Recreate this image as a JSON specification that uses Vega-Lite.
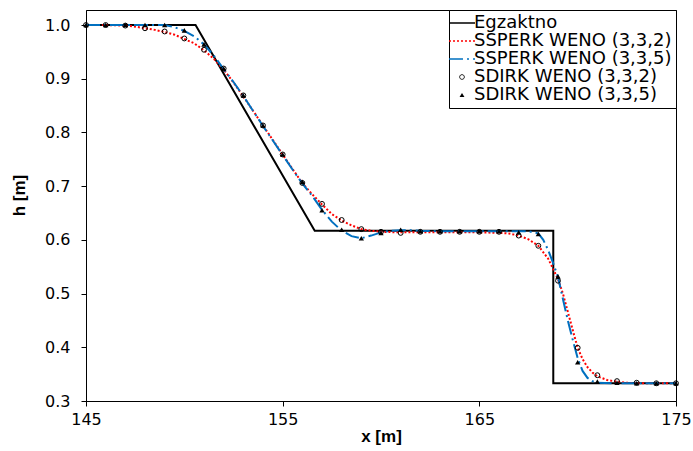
{
  "$schema": "https://vega.github.io/schema/vega-lite/v6.json",
  "autosize": {"type": "none"},
  "width": 590,
  "height": 391,
  "padding": {"left": 86, "top": 10, "right": 17, "bottom": 50},
  "background": "white",
  "config": {
    "view": {"stroke": "black", "strokeWidth": 1},
    "legend": {"strokeColor": "#000000", "fillColor": "#ffffff", "strokeWidth": 1, "cornerRadius": 0},
    "axis": {
      "domainColor": "black", "tickColor": "black", "labelColor": "black", "titleColor": "black",
      "labelFont": "DejaVu Sans", "titleFont": "Liberation Sans",
      "labelFontSize": 16, "titleFontSize": 17, "titleFontWeight": "bold",
      "grid": false, "tickSize": 5, "domainWidth": 1, "tickWidth": 1, "labelFlush": false
    }
  },
  "datasets": {
    "exact": [
      {"i": 1, "x": 145, "h": 1.0, "s": "Egzaktno"},
      {"i": 2, "x": 150.57, "h": 1.0, "s": "Egzaktno"},
      {"i": 3, "x": 156.63, "h": 0.617, "s": "Egzaktno"},
      {"i": 4, "x": 168.76, "h": 0.617, "s": "Egzaktno"},
      {"i": 5, "x": 168.76, "h": 0.333, "s": "Egzaktno"},
      {"i": 6, "x": 175, "h": 0.333, "s": "Egzaktno"}
    ],
    "red": [
      {"x":145,"h":1.0},{"x":146,"h":1.0},{"x":147,"h":0.999},{"x":147.5,"h":0.997},{"x":148,"h":0.994},{"x":148.5,"h":0.991},
      {"x":149,"h":0.987},{"x":149.5,"h":0.982},{"x":150,"h":0.974},{"x":150.5,"h":0.966},{"x":151,"h":0.953},{"x":151.5,"h":0.937},
      {"x":152,"h":0.917},{"x":152.5,"h":0.893},{"x":153,"h":0.867},{"x":153.5,"h":0.840},{"x":154,"h":0.813},{"x":154.5,"h":0.786},
      {"x":155,"h":0.759},{"x":155.5,"h":0.732},{"x":156,"h":0.706},{"x":156.5,"h":0.685},{"x":157,"h":0.666},{"x":157.5,"h":0.648},
      {"x":158,"h":0.636},{"x":158.5,"h":0.627},{"x":159,"h":0.620},{"x":159.5,"h":0.617},{"x":160,"h":0.615},{"x":161,"h":0.614},
      {"x":162,"h":0.614},{"x":163,"h":0.614},{"x":164,"h":0.614},{"x":165,"h":0.614},{"x":166,"h":0.613},{"x":166.5,"h":0.612},
      {"x":167,"h":0.608},{"x":167.5,"h":0.601},{"x":168,"h":0.589},{"x":168.5,"h":0.565},{"x":169,"h":0.527},{"x":169.25,"h":0.500},
      {"x":169.5,"h":0.466},{"x":169.75,"h":0.432},{"x":170,"h":0.399},{"x":170.25,"h":0.378},{"x":170.5,"h":0.363},{"x":170.75,"h":0.353},
      {"x":171,"h":0.346},{"x":171.5,"h":0.339},{"x":172,"h":0.336},{"x":172.5,"h":0.334},{"x":173,"h":0.333},{"x":175,"h":0.333}
    ],
    "blue": [
      {"x":145,"h":1.0},{"x":148,"h":1.0},{"x":149,"h":1.0},{"x":149.5,"h":0.996},{"x":150,"h":0.989},{"x":150.5,"h":0.979},
      {"x":151,"h":0.964},{"x":151.5,"h":0.943},{"x":152,"h":0.918},{"x":152.5,"h":0.894},{"x":153,"h":0.868},{"x":153.5,"h":0.840},
      {"x":154,"h":0.812},{"x":154.5,"h":0.785},{"x":155,"h":0.758},{"x":155.5,"h":0.731},{"x":156,"h":0.705},{"x":156.5,"h":0.682},
      {"x":157,"h":0.656},{"x":157.5,"h":0.634},{"x":158,"h":0.617},{"x":158.5,"h":0.607},{"x":159,"h":0.603},{"x":159.5,"h":0.608},
      {"x":160,"h":0.614},{"x":160.5,"h":0.617},{"x":161,"h":0.618},{"x":161.5,"h":0.618},{"x":162,"h":0.617},{"x":163,"h":0.616},
      {"x":164,"h":0.616},{"x":165,"h":0.616},{"x":166,"h":0.616},{"x":167,"h":0.616},{"x":167.5,"h":0.616},{"x":168,"h":0.612},
      {"x":168.25,"h":0.600},{"x":168.5,"h":0.581},{"x":168.75,"h":0.557},{"x":169,"h":0.531},{"x":169.25,"h":0.490},{"x":169.5,"h":0.450},
      {"x":169.75,"h":0.414},{"x":170,"h":0.380},{"x":170.25,"h":0.356},{"x":170.5,"h":0.343},{"x":170.75,"h":0.337},{"x":171,"h":0.334},
      {"x":172,"h":0.333},{"x":175,"h":0.333}
    ],
    "circ": [
      {"x":145,"h":1.0},{"x":146,"h":1.0},{"x":147,"h":0.999},{"x":148,"h":0.994},{"x":149,"h":0.988},{"x":150,"h":0.975},
      {"x":151,"h":0.954},{"x":152,"h":0.919},{"x":153,"h":0.869},{"x":154,"h":0.813},{"x":155,"h":0.759},{"x":156,"h":0.706},
      {"x":157,"h":0.667},{"x":158,"h":0.637},{"x":159,"h":0.620},{"x":160,"h":0.615},{"x":161,"h":0.613},{"x":162,"h":0.615},
      {"x":163,"h":0.615},{"x":164,"h":0.615},{"x":165,"h":0.615},{"x":166,"h":0.615},{"x":167,"h":0.608},{"x":168,"h":0.589},
      {"x":169,"h":0.524},{"x":170,"h":0.399},{"x":171,"h":0.348},{"x":172,"h":0.337},{"x":173,"h":0.334},{"x":174,"h":0.333},{"x":175,"h":0.333}
    ],
    "tri": [
      {"x":145,"h":1.0},{"x":146,"h":1.0},{"x":147,"h":1.0},{"x":148,"h":1.0},{"x":149,"h":1.0},{"x":150,"h":0.990},
      {"x":151,"h":0.964},{"x":152,"h":0.919},{"x":153,"h":0.869},{"x":154,"h":0.813},{"x":155,"h":0.759},{"x":156,"h":0.708},
      {"x":157,"h":0.655},{"x":158,"h":0.619},{"x":159,"h":0.603},{"x":160,"h":0.613},{"x":161,"h":0.619},{"x":162,"h":0.616},
      {"x":163,"h":0.616},{"x":164,"h":0.616},{"x":165,"h":0.616},{"x":166,"h":0.616},{"x":167,"h":0.614},{"x":168,"h":0.611},
      {"x":169,"h":0.532},{"x":170,"h":0.372},{"x":171,"h":0.336},{"x":172,"h":0.334},{"x":173,"h":0.333},{"x":174,"h":0.333},{"x":175,"h":0.333}
    ]
  },
  "encoding": {
    "x": {"field": "x", "type": "quantitative", "scale": {"domain": [145, 175], "nice": false, "zero": false},
      "axis": {"values": [145, 155, 165, 175], "title": "x [m]", "labelPadding": 5, "titlePadding": 1}},
    "y": {"field": "h", "type": "quantitative", "scale": {"domain": [0.3, 1.028], "nice": false, "zero": false},
      "axis": {"values": [0.3, 0.4, 0.5, 0.6, 0.7, 0.8, 0.9, 1.0], "format": ".1f", "title": "h [m]", "labelPadding": 11,
        "titleX": -67, "titleY": 185, "titleAngle": -90, "titleAlign": "center", "titleBaseline": "middle"}}
  },
  "layer": [
    {
      "data": {"name": "exact"},
      "mark": {"type": "line", "strokeWidth": 2},
      "encoding": {
        "order": {"field": "i", "type": "quantitative"},
        "color": {"field": "s", "type": "nominal",
          "scale": {"domain": ["Egzaktno", "SSPERK WENO (3,3,2)", "SSPERK WENO (3,3,5)", "SDIRK WENO (3,3,2)", "SDIRK WENO (3,3,5)"],
                    "range": ["#000000", "#FF0000", "#0070C0", "#000000", "#000000"]},
          "legend": {
            "orient": "top-right", "offset": 0, "title": null,
            "fillColor": "#ffffff", "strokeColor": "#000000", "padding": 4,
            "labelFont": "DejaVu Sans", "labelFontSize": 18, "labelColor": "black", "labelLimit": 400,
            "labelOffset": 3, "rowPadding": -1.5, "symbolType": "stroke", "symbolSize": 676, "symbolStrokeWidth": 2,
            "encode": {
              "symbols": {"update": {
                "shape": {"signal": "datum.value === 'SDIRK WENO (3,3,2)' ? 'circle' : datum.value === 'SDIRK WENO (3,3,5)' ? 'triangle-up' : 'stroke'"},
                "size": {"signal": "datum.value === 'SDIRK WENO (3,3,2)' ? 22 : datum.value === 'SDIRK WENO (3,3,5)' ? 24 : 676"},
                "strokeDash": {"signal": "datum.value === 'SSPERK WENO (3,3,2)' ? [2,2] : datum.value === 'SSPERK WENO (3,3,5)' ? [14,4,2,4] : [1,0]"},
                "stroke": {"signal": "datum.value === 'SSPERK WENO (3,3,2)' ? '#FF0000' : datum.value === 'SSPERK WENO (3,3,5)' ? '#0070C0' : '#000000'"},
                "fill": {"signal": "datum.value === 'SDIRK WENO (3,3,5)' ? '#000000' : '#ffffff'"},
                "fillOpacity": {"signal": "datum.value === 'SDIRK WENO (3,3,5)' ? 1 : 0"},
                "strokeWidth": {"signal": "datum.value === 'SDIRK WENO (3,3,2)' ? 1 : datum.value === 'SDIRK WENO (3,3,5)' ? 0 : 1.5"},
                "opacity": {"value": 1}
              }}
            }
          }
        }
      }
    },
    {
      "data": {"name": "red"},
      "transform": [{"calculate": "'SSPERK WENO (3,3,2)'", "as": "s"}],
      "mark": {"type": "line", "strokeWidth": 2, "strokeDash": [2, 2]},
      "encoding": {"color": {"field": "s", "type": "nominal"}}
    },
    {
      "data": {"name": "blue"},
      "transform": [{"calculate": "'SSPERK WENO (3,3,5)'", "as": "s"}],
      "mark": {"type": "line", "strokeWidth": 2, "strokeDash": [14, 4, 2, 4]},
      "encoding": {"color": {"field": "s", "type": "nominal"}}
    },
    {
      "data": {"name": "circ"},
      "transform": [{"calculate": "'SDIRK WENO (3,3,2)'", "as": "s"}],
      "mark": {"type": "point", "shape": "circle", "filled": false, "size": 24, "strokeWidth": 1, "opacity": 1},
      "encoding": {"color": {"field": "s", "type": "nominal"}}
    },
    {
      "data": {"name": "tri"},
      "transform": [{"calculate": "'SDIRK WENO (3,3,5)'", "as": "s"}],
      "mark": {"type": "point", "shape": "triangle-up", "filled": true, "size": 28, "opacity": 1},
      "encoding": {"color": {"field": "s", "type": "nominal"}}
    }
  ]
}
